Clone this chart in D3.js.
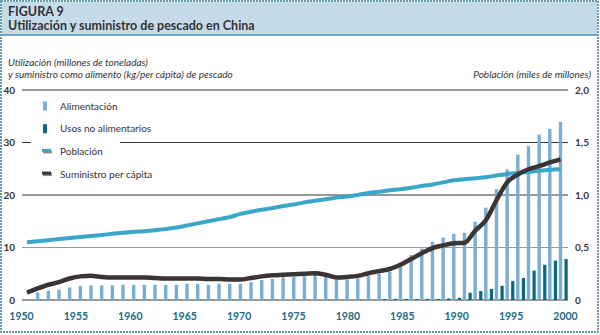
<!DOCTYPE html>
<html>
<head>
<meta charset="utf-8">
<script src="https://cdn.jsdelivr.net/npm/d3@7"></script>
<style>
  body { margin: 0; background: #fff; }
  svg { display: block; font-family: Lato, "Open Sans", sans-serif; }
</style>
</head>
<body>
<div id="chart"></div>
<script>
// bars: 1951-2000, lines: 1950-2000
const barYears = d3.range(1951, 2001);
const lineYears = d3.range(1950, 2001);

const food = [1.4, 1.8, 2.0, 2.4, 2.7, 2.8, 2.8, 2.8, 2.9, 2.9,
              2.9, 2.9, 2.9, 2.9, 3.1, 3.1, 2.9, 3.1, 3.1, 3.1,
              3.4, 3.8, 4.0, 4.3, 4.4, 4.5, 5.0, 4.4, 3.9, 3.9,
              4.1, 4.6, 5.0, 5.4, 7.0, 8.6, 9.8, 11.1, 11.9, 12.6,
              12.8, 14.9, 17.6, 21.1, 24.9, 27.7, 29.3, 31.5, 32.6, 33.9];

const nonFood = [0, 0, 0, 0, 0, 0, 0, 0, 0, 0,
                 0, 0, 0, 0, 0, 0, 0, 0, 0, 0,
                 0, 0, 0, 0, 0, 0, 0, 0, 0, 0,
                 0, 0, 0.2, 0.2, 0.2, 0.2, 0.2, 0.2, 0.3, 0.4,
                 1.4, 1.7, 2.1, 2.7, 3.6, 4.2, 5.6, 6.7, 7.5, 7.8];

const population = [0.55, 0.56, 0.57, 0.58, 0.59, 0.60, 0.61, 0.62, 0.63, 0.64,
                    0.65, 0.655, 0.665, 0.675, 0.69, 0.71, 0.73, 0.75, 0.77, 0.79,
                    0.82, 0.84, 0.86, 0.875, 0.895, 0.91, 0.93, 0.945, 0.96, 0.975,
                    0.985, 1.0, 1.02, 1.03, 1.045, 1.055, 1.07, 1.085, 1.10, 1.12,
                    1.14, 1.15, 1.16, 1.17, 1.185, 1.20, 1.21, 1.22, 1.23, 1.24, 1.245];

const supply = [1.4, 2.2, 2.9, 3.4, 4.1, 4.5, 4.6, 4.4, 4.3, 4.3,
                4.3, 4.3, 4.2, 4.1, 4.1, 4.1, 4.1, 4.0, 4.0, 3.9,
                3.9, 4.2, 4.5, 4.7, 4.8, 4.9, 5.0, 5.1, 4.8, 4.3,
                4.4, 4.6, 5.1, 5.5, 5.9, 6.7, 7.8, 8.9, 9.9, 10.4,
                10.8, 10.9, 13.2, 15.2, 19.0, 22.4, 23.9, 24.9, 25.5, 26.2, 26.8];

const leftTicks = [0, 10, 20, 30, 40];
const rightTicks = [0, 0.5, 1.0, 1.5, 2.0];
const yearTicks = [1950, 1955, 1960, 1965, 1970, 1975, 1980, 1985, 1990, 1995, 2000];

const legend = ["Alimentación", "Usos no alimentarios", "Población", "Suministro per cápita"];

const colors = {
  food: "#7aaed3",
  nonFood: "#0b6878",
  pop: "#3aa6c8",
  supply: "#3a3435"
};

const width = 600, height = 335;
const gridLeft = 22, gridRight = 568;

const svg = d3.select("#chart").append("svg")
  .attr("width", width)
  .attr("height", height);

// frame and header
svg.append("rect")
  .attr("x", 1).attr("y", 1)
  .attr("width", width - 3).attr("height", height - 4)
  .attr("fill", "none")
  .attr("stroke", "#2a7b93")
  .attr("stroke-width", 1.5)
  .attr("stroke-dasharray", "2,1");

svg.append("rect")
  .attr("x", 2).attr("y", 2)
  .attr("width", width - 5).attr("height", 33)
  .attr("fill", "#c6dbea");

svg.append("line")
  .attr("x1", 2).attr("x2", width - 3)
  .attr("y1", 35).attr("y2", 35)
  .attr("stroke", "#4f8db3")
  .attr("stroke-width", 1.5);

svg.append("text")
  .attr("x", 8).attr("y", 16)
  .attr("font-size", 12.5).attr("font-weight", "bold")
  .attr("fill", "#333")
  .text("FIGURA 9");

svg.append("text")
  .attr("x", 8).attr("y", 30)
  .attr("font-size", 12.5).attr("font-weight", "bold")
  .attr("fill", "#333")
  .text("Utilización y suministro de pescado en China");

// axis titles
svg.append("text")
  .attr("x", 8).attr("y", 66)
  .attr("font-size", 10).attr("font-style", "italic")
  .attr("fill", "#333")
  .text("Utilización (millones de toneladas)");

svg.append("text")
  .attr("x", 8).attr("y", 78)
  .attr("font-size", 10).attr("font-style", "italic")
  .attr("fill", "#333")
  .text("y suministro como alimento (kg/per cápita) de pescado");

svg.append("text")
  .attr("x", 591).attr("y", 78)
  .attr("text-anchor", "end")
  .attr("font-size", 10).attr("font-style", "italic")
  .attr("fill", "#333")
  .text("Población (miles de millones)");

// scales
const x = d3.scaleLinear().domain([1950, 2000]).range([27, 560.5]);
const xLabel = d3.scaleLinear().domain([1950, 2000]).range([21, 565]);
const y = d3.scaleLinear().domain([0, 40]).range([300, 90]);
const y2 = d3.scaleLinear().domain([0, 2]).range([300, 90]);

// gridlines
leftTicks.forEach(t => {
  if (t === 30) {
    svg.append("line")
      .attr("x1", gridLeft).attr("x2", 31)
      .attr("y1", y(t)).attr("y2", y(t))
      .attr("stroke", "#333").attr("stroke-width", 1);
    svg.append("line")
      .attr("x1", 120).attr("x2", gridRight)
      .attr("y1", y(t)).attr("y2", y(t))
      .attr("stroke", "#333").attr("stroke-width", 1);
  } else {
    svg.append("line")
      .attr("x1", gridLeft).attr("x2", gridRight)
      .attr("y1", y(t)).attr("y2", y(t))
      .attr("stroke", t === 10 ? "#8d9ba6" : "#333")
      .attr("stroke-width", t === 0 ? 1.2 : 1);
  }
});

// bars
svg.append("g").selectAll("rect")
  .data(barYears)
  .enter().append("rect")
  .attr("x", d => x(d) - 1.7)
  .attr("y", (d, i) => y(food[i]))
  .attr("width", 3.4)
  .attr("height", (d, i) => y(0) - y(food[i]))
  .attr("fill", colors.food);

svg.append("g").selectAll("rect")
  .data(barYears)
  .enter().append("rect")
  .attr("x", d => x(d) + 4)
  .attr("y", (d, i) => y(nonFood[i]))
  .attr("width", 3.2)
  .attr("height", (d, i) => y(0) - y(nonFood[i]))
  .attr("fill", colors.nonFood);

// lines
const popLine = d3.line()
  .curve(d3.curveMonotoneX)
  .x((d, i) => x(lineYears[i]))
  .y(d => y2(d));

svg.append("path")
  .attr("d", popLine(population))
  .attr("fill", "none")
  .attr("stroke", colors.pop)
  .attr("stroke-width", 4);

const supplyLine = d3.line()
  .curve(d3.curveMonotoneX)
  .x((d, i) => x(lineYears[i]))
  .y(d => y(d));

svg.append("path")
  .attr("d", supplyLine(supply))
  .attr("fill", "none")
  .attr("stroke", colors.supply)
  .attr("stroke-width", 4.5);

// axes
const yAxis = d3.axisLeft(y).tickValues(leftTicks).tickSize(0).tickPadding(4);
svg.append("g")
  .attr("class", "axis")
  .attr("transform", "translate(" + 19 + ",0)")
  .call(yAxis)
  .call(g => g.select(".domain").remove())
  .selectAll("text")
  .attr("font-family", "Lato, sans-serif")
  .attr("font-size", 10).attr("font-weight", "bold")
  .attr("fill", "#333");

const y2Axis = d3.axisRight(y2).tickValues(rightTicks).tickSize(0).tickPadding(0)
  .tickFormat(d => d === 0 ? "0" : d3.format(".1f")(d).replace(".", ","));
svg.append("g")
  .attr("class", "axis")
  .attr("transform", "translate(" + 575 + ",0)")
  .call(y2Axis)
  .call(g => g.select(".domain").remove())
  .selectAll("text")
  .attr("font-family", "Lato, sans-serif")
  .attr("font-size", 10).attr("font-weight", "bold")
  .attr("fill", "#333");

const xAxis = d3.axisBottom(xLabel).tickValues(yearTicks).tickSize(0).tickPadding(13)
  .tickFormat(d3.format("d"));
svg.append("g")
  .attr("class", "axisx")
  .attr("transform", "translate(0," + 300 + ")")
  .call(xAxis)
  .call(g => g.select(".domain").remove())
  .selectAll("text")
  .attr("font-family", "Lato, sans-serif")
  .attr("font-size", 10.5).attr("font-weight", "bold")
  .attr("fill", "#1b6a87");

// legend
const legends = svg.selectAll(".legend")
  .data(legend)
  .enter().append("g")
  .attr("class", "legend")
  .attr("transform", (d, i) => "translate(42," + (106 + i * 22.7) + ")");

legends.each(function(d, i) {
  const g = d3.select(this);
  if (i < 2) {
    g.append("rect")
      .attr("x", 1).attr("y", -4.5)
      .attr("width", 4).attr("height", 9)
      .attr("fill", i === 0 ? colors.food : colors.nonFood);
  } else {
    g.append("rect")
      .attr("x", 1).attr("y", -1)
      .attr("width", 9).attr("height", 3)
      .attr("fill", "#888");
    g.append("rect")
      .attr("x", 0).attr("y", -2.5)
      .attr("width", 9).attr("height", 3)
      .attr("fill", i === 2 ? colors.pop : colors.supply);
  }
  g.append("text")
    .attr("x", 18).attr("y", 3.5)
    .attr("font-size", 10)
    .attr("fill", "#333")
    .text(d);
});
</script>
</body>
</html>
